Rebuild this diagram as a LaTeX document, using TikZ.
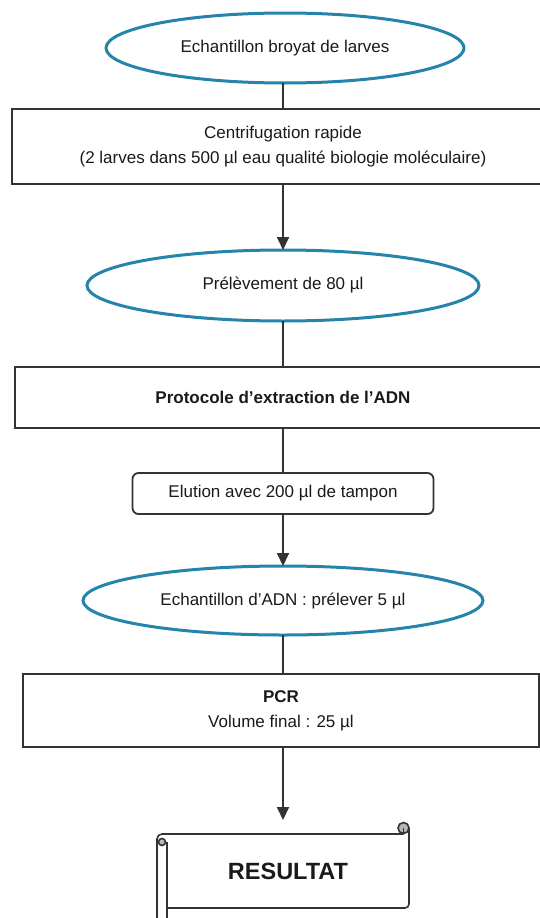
\documentclass[tikz,border=0pt]{standalone}
\usepackage{fontspec}
\setmainfont{Liberation Sans}
\usepackage{tikz}
\usetikzlibrary{arrows.meta, calc, positioning, shapes.geometric}
\usepackage{xcolor}
\definecolor{fBlue}{HTML}{2584AB}
\definecolor{fLine}{HTML}{333333}
\definecolor{fInk}{HTML}{1A1A1A}
\definecolor{fCurl}{HTML}{B8B8B8}

\begin{document}
\begin{tikzpicture}[x=1pt, y=-1pt,
  every node/.style={inner sep=0pt, outer sep=0pt},
  txt/.style={text=fInk, align=center, font=\fontsize{17}{25}\selectfont},
  oval/.style={ellipse, draw=fBlue, line width=3pt, fill=white, txt},
  stepbox/.style={rectangle, draw=fLine, line width=1.8pt, fill=white, txt},
  link/.style={draw=fLine, line width=1.8pt},
  arr/.style={link, -{Triangle[length=13pt, width=12pt]}}]
  \useasboundingbox (0,0) rectangle (540,918);
  % samples and steps, top to bottom
  \node[oval, minimum width=358pt, minimum height=70pt] (e1) at (285,48) {Echantillon broyat de larves};
  \node[stepbox, minimum width=542pt, minimum height=75pt, below=26pt of e1, xshift=-2pt] (b1)
    {Centrifugation rapide\\(2 larves dans 500 µl eau qualité biologie moléculaire)};
  \node[oval, minimum width=392pt, minimum height=71pt, below=66pt of b1] (e2) {Prélèvement de 80 µl};
  \node[stepbox, minimum width=536pt, minimum height=61pt, below=46pt of e2] (b2) {\textbf{Protocole d’extraction de l’ADN}};
  \node[stepbox, rounded corners=6pt, minimum width=301pt, minimum height=41pt, below=45pt of b2] (el)
    {Elution avec 200 µl de tampon};
  \node[oval, minimum width=400pt, minimum height=69pt, below=52pt of el] (e3) {Echantillon d’ADN : prélever 5 µl};
  \node[stepbox, minimum width=516pt, minimum height=73pt, below=39pt of e3, xshift=-2pt] (b3)
    {\textbf{PCR}\\Volume final : 25 µl};
  \node[txt, font=\fontsize{23.5}{28}\selectfont\bfseries, minimum width=242pt, minimum height=74pt,
    below=87pt of b3, xshift=7pt] (res) {RESULTAT};
  % result scroll
  \begin{scope}[shift={(res.north west)}, line width=1.6pt, fLine]
    \draw[rounded corners=5pt] (-10,95) -- (-10,0) -- (236.5,0);
    \draw[rounded corners=4pt] (0,74) -- (242,74) -- (242,-6);
    \draw (0,8) -- (0,95);
    \draw[fill=fCurl] (236.5,-6) circle[radius=5.5pt];
    \draw (236.5,-6) -- (236.5,0);
    \draw[fill=fCurl] (-5,8) circle[radius=3.5pt];
  \end{scope}
  % connectors
  \draw[link] (e1.south -| b1.north) -- (b1.north);  \draw[arr] (b1.south) -- (e2.north);
  \draw[link] (e2.south) -- (b2.north);  \draw[link] (b2.south) -- (el.north);
  \draw[arr] (el.south) -- (e3.north);  \draw[link] (e3.south) -- (e3.south |- b3.north);
  \draw[arr] (e3.south |- b3.south) -- ([yshift=14pt]e3.south |- res.north);
\end{tikzpicture}
\end{document}
